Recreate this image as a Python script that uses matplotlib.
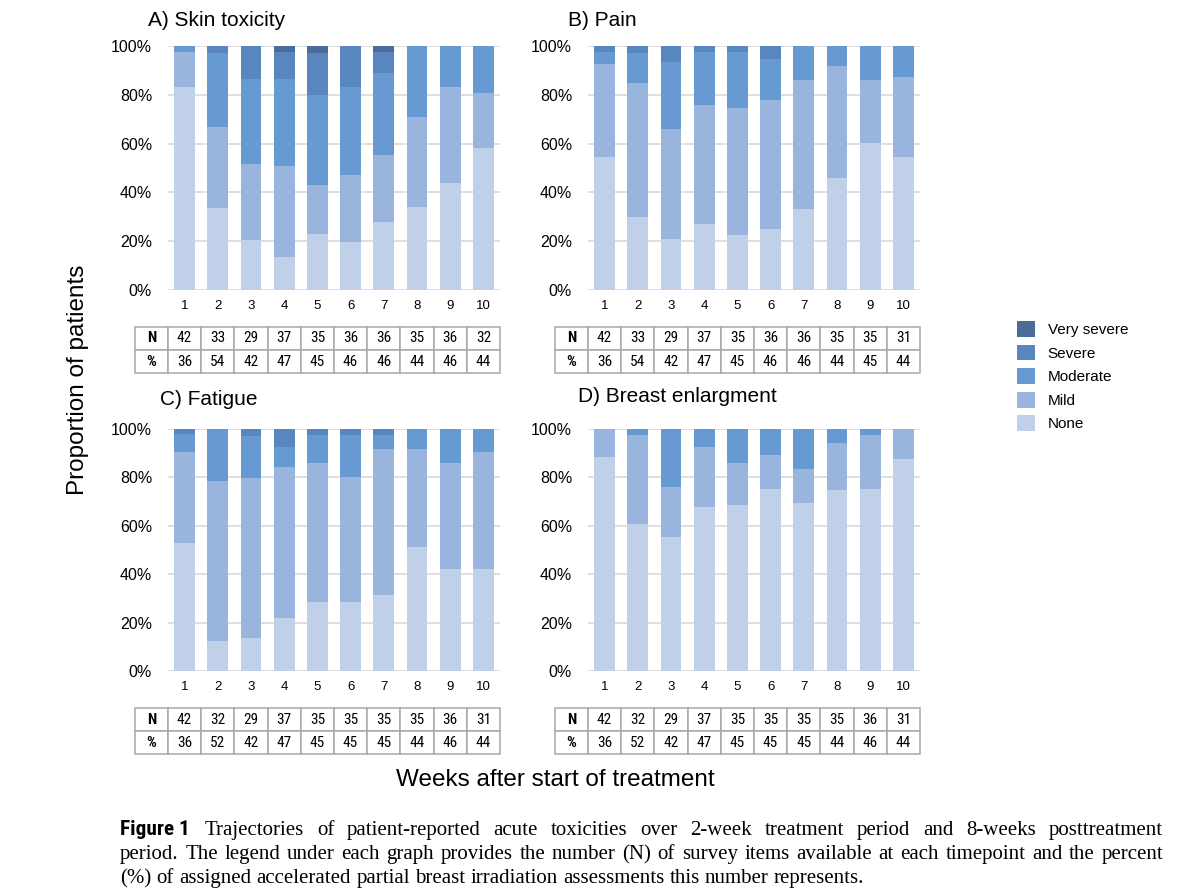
import matplotlib
matplotlib.use("Agg")
import matplotlib.pyplot as plt
from matplotlib.patches import Patch
from matplotlib import font_manager as fm
import numpy as np

# ---------------- data ----------------
weeks = [1, 2, 3, 4, 5, 6, 7, 8, 9, 10]
levels = ["None", "Mild", "Moderate", "Severe", "Very severe"]

skin_none = [83.2, 33.5, 20.4, 13.4, 23.0, 19.8, 27.9, 34.2, 44.0, 58.1]
skin_mild = [14.3, 33.3, 31.3, 37.6, 20.0, 27.5, 27.5, 36.9, 39.2, 22.6]
skin_moderate = [2.5, 30.3, 34.6, 35.3, 37.0, 35.9, 33.5, 28.9, 16.8, 19.3]
skin_severe = [0, 2.9, 13.7, 11.2, 17.1, 16.8, 8.6, 0, 0, 0]
skin_very_severe = [0, 0, 0, 2.5, 2.9, 0, 2.5, 0, 0, 0]

pain_none = [54.6, 29.8, 20.7, 26.9, 22.6, 24.9, 33.2, 45.8, 60.1, 54.6]
pain_mild = [38.1, 54.9, 45.2, 48.9, 52.1, 52.8, 52.7, 45.9, 25.8, 32.5]
pain_moderate = [4.8, 12.6, 27.7, 21.6, 22.7, 17.1, 14.1, 8.3, 14.1, 12.9]
pain_severe = [2.5, 2.7, 6.4, 2.6, 2.6, 5.2, 0, 0, 0, 0]
pain_very_severe = [0, 0, 0, 0, 0, 0, 0, 0, 0, 0]

fatigue_none = [52.7, 12.4, 13.6, 21.9, 28.6, 28.6, 31.2, 51.3, 42.0, 42.0]
fatigue_mild = [37.8, 66.1, 66.2, 62.3, 57.5, 51.7, 60.4, 40.3, 44.1, 48.5]
fatigue_moderate = [7.6, 21.5, 17.2, 8.2, 11.3, 17.1, 5.8, 8.4, 13.9, 9.5]
fatigue_severe = [1.9, 0, 3.0, 7.6, 2.6, 2.6, 2.6, 0, 0, 0]
fatigue_very_severe = [0, 0, 0, 0, 0, 0, 0, 0, 0, 0]

breast_none = [88.6, 60.7, 55.2, 67.8, 68.4, 75.4, 69.6, 74.7, 75.4, 87.5]
breast_mild = [11.4, 36.7, 20.7, 24.6, 17.7, 13.9, 13.9, 19.4, 22.0, 12.5]
breast_moderate = [0, 2.6, 24.1, 7.6, 13.9, 10.7, 16.5, 5.9, 2.6, 0]
breast_severe = [0, 0, 0, 0, 0, 0, 0, 0, 0, 0]
breast_very_severe = [0, 0, 0, 0, 0, 0, 0, 0, 0, 0]

skin_n = [42, 33, 29, 37, 35, 36, 36, 35, 36, 32]
skin_pct = [36, 54, 42, 47, 45, 46, 46, 44, 46, 44]
pain_n = [42, 33, 29, 37, 35, 36, 36, 35, 35, 31]
pain_pct = [36, 54, 42, 47, 45, 46, 46, 44, 45, 44]
fatigue_n = [42, 32, 29, 37, 35, 35, 35, 35, 36, 31]
fatigue_pct = [36, 52, 42, 47, 45, 45, 45, 44, 46, 44]
breast_n = [42, 32, 29, 37, 35, 35, 35, 35, 36, 31]
breast_pct = [36, 52, 42, 47, 45, 45, 45, 44, 46, 44]

titles = ["A) Skin toxicity", "B) Pain", "C) Fatigue", "D) Breast enlargment"]
yticks = [0, 20, 40, 60, 80, 100]
ytick_labels = ["0%", "20%", "40%", "60%", "80%", "100%"]

# ---------------- style ----------------
colors = ["#c1d0e9", "#99b5de", "#6799d3", "#5986bf", "#4b6c9a"]
grid_color = "#d9d9d9"

names = {f.name for f in fm.fontManager.ttflist}
def pick(cands, default):
    for c in cands:
        if c in names:
            return c
    return default

sans = pick(["Liberation Sans", "Arial", "DejaVu Sans"], "DejaVu Sans")
narrow = pick(["Liberation Sans Narrow", "Roboto Condensed", "Open Sans Condensed", "Liberation Sans"], "DejaVu Sans")
serif = pick(["Liberation Serif", "DejaVu Serif"], "DejaVu Serif")
plt.rcParams["font.family"] = [sans, "DejaVu Sans"]

W, H = 1200, 896
fig = plt.figure(figsize=(W / 100, H / 100), dpi=100)

def fx(px):
    return px / W

def fy(py):
    return 1 - py / H

panels = [
    dict(data=[skin_none, skin_mild, skin_moderate, skin_severe, skin_very_severe],
         n=skin_n, pct=skin_pct, box=(168, 46, 500, 290), title_xy=(148, 26)),
    dict(data=[pain_none, pain_mild, pain_moderate, pain_severe, pain_very_severe],
         n=pain_n, pct=pain_pct, box=(588, 46, 920, 290), title_xy=(568, 26)),
    dict(data=[fatigue_none, fatigue_mild, fatigue_moderate, fatigue_severe, fatigue_very_severe],
         n=fatigue_n, pct=fatigue_pct, box=(168, 429, 500, 671), title_xy=(160, 405)),
    dict(data=[breast_none, breast_mild, breast_moderate, breast_severe, breast_very_severe],
         n=breast_n, pct=breast_pct, box=(588, 429, 920, 671), title_xy=(578, 402)),
]

for title, p in zip(titles, panels):
    x0, y0, x1, y1 = p["box"]
    ax = fig.add_axes([fx(x0), fy(y1), (x1 - x0) / W, (y1 - y0) / H])
    x = np.array(weeks)
    bottom = np.zeros(len(weeks))
    for vals, col, lab in zip(p["data"], colors, levels):
        v = np.array(vals, dtype=float)
        ax.bar(x, v, width=0.63, bottom=bottom, color=col, edgecolor="none",
               label=lab, zorder=2)
        bottom += v
    ax.set_xlim(0.5, 10.5)
    ax.set_ylim(0, 100)
    ax.set_yticks(yticks)
    ax.set_yticklabels(ytick_labels)
    ax.set_xticks(weeks)
    ax.set_xticklabels([str(w) for w in weeks])
    ax.tick_params(axis="y", length=0, pad=11.5, labelsize=11.5)
    ax.tick_params(axis="x", length=0, pad=7, labelsize=9.5)
    for s in ax.spines.values():
        s.set_visible(False)
    ax.yaxis.grid(True, color=grid_color, linewidth=1.2, zorder=0)
    ax.set_axisbelow(True)
    fig.text(fx(p["title_xy"][0]), fy(p["title_xy"][1]), title,
             fontsize=15, ha="left", va="baseline")

    cell_text = [["N"] + [str(v) for v in p["n"]],
                 ["%"] + [str(v) for v in p["pct"]]]
    h_ax = (y1 - y0)
    t_top = -37 / h_ax
    t_bot = -83 / h_ax
    tbl = ax.table(cellText=cell_text, cellLoc="center",
                   bbox=[-0.1, t_bot, 1.1, t_top - t_bot])
    tbl.auto_set_font_size(False)
    for (r, c), cell in tbl.get_celld().items():
        cell.set_edgecolor("#a8a8a8")
        cell.set_linewidth(1.1)
        txt = cell.get_text()
        txt.set_fontsize(11)
        txt.set_fontfamily(narrow)
        if c == 0:
            txt.set_fontweight("bold")

# axis labels
fig.text(fx(78), fy(380), "Proportion of patients", rotation=90,
         fontsize=17.5, ha="center", va="center")
fig.text(fx(555), fy(780), "Weeks after start of treatment",
         fontsize=17.5, ha="center", va="center")

# legend
handles = [Patch(facecolor=c, edgecolor="none") for c in colors[::-1]]
fig.legend(handles, levels[::-1], loc="upper left",
           bbox_to_anchor=(fx(1017), fy(321)), frameon=False, fontsize=11,
           handlelength=1.2, handleheight=1.2, handletextpad=0.8,
           labelspacing=0.5, borderpad=0, borderaxespad=0)

# caption with justified lines
renderer = fig.canvas.get_renderer()
line1 = "Trajectories of patient-reported acute toxicities over 2-week treatment period and 8-weeks posttreatment"
line2 = "period. The legend under each graph provides the number (N) of survey items available at each timepoint and the percent"
line3 = "(%) of assigned accelerated partial breast irradiation assessments this number represents."

probe = fig.text(0, 0, line3, fontsize=14, family=serif)
w3 = probe.get_window_extent(renderer).width
probe.remove()
cap_fs = 14 * 745 / w3

def place_line(tokens, x_left, x_right, y_base, justify=True):
    objs = []
    for t, kw in tokens:
        o = fig.text(fx(x_left), fy(y_base), t, va="baseline", ha="left", **kw)
        objs.append(o)
    widths = [o.get_window_extent(renderer).width for o in objs]
    n = len(objs)
    if justify and n > 1:
        gap = (x_right - x_left - sum(widths)) / (n - 1)
    else:
        sp = fig.text(0, 0, "a a", fontsize=cap_fs, family=serif)
        sp2 = fig.text(0, 0, "aa", fontsize=cap_fs, family=serif)
        gap = sp.get_window_extent(renderer).width - sp2.get_window_extent(renderer).width
        sp.remove(); sp2.remove()
    xpos = x_left
    for o, w in zip(objs, widths):
        o.set_x(fx(xpos))
        xpos += w + gap

ser = dict(fontsize=cap_fs, family=serif)
bold_kw = dict(fontsize=cap_fs * 1.02, family=narrow, fontweight="bold")
fig_lab = fig.text(fx(120), fy(835), "Figure 1", va="baseline", ha="left", **bold_kw)
fw = fig_lab.get_window_extent(renderer).width
place_line([(w, ser) for w in line1.split()], 120 + fw + 15, 1163, 835)
place_line([(w, ser) for w in line2.split()], 120, 1163, 859)
place_line([(w, ser) for w in line3.split()], 120, 1163, 883, justify=False)

fig.savefig("out.png", dpi=100)
